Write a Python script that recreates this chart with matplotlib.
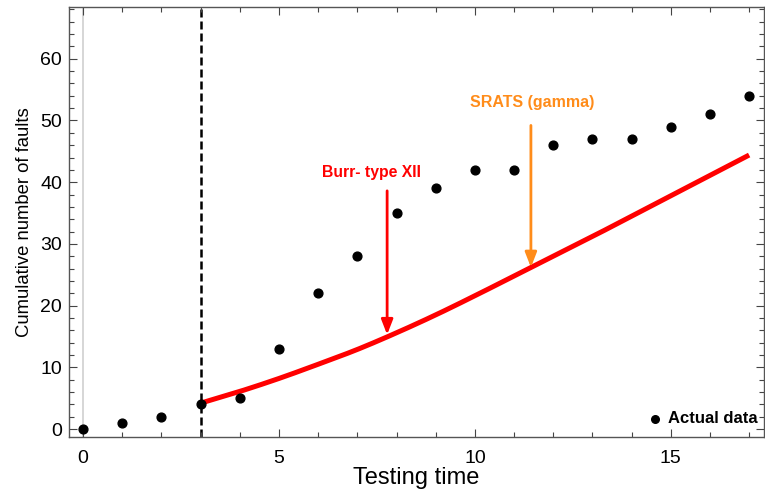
import numpy as np
import matplotlib
matplotlib.use("Agg")
import matplotlib.pyplot as plt
from matplotlib.ticker import MultipleLocator

plt.rcParams['font.family'] = ['Liberation Sans', 'DejaVu Sans']

# Observed cumulative faults per testing period
test_time = [0, 1, 2, 3, 4, 5, 6, 7, 8, 9, 10, 11, 12, 13, 14, 15, 16, 17]
faults = [0, 1, 2, 4, 5, 13, 22, 28, 35, 39, 42, 42, 46, 47, 47, 49, 51, 54]

# Fitted mean value function (prediction from t = 3 onward)
fit_time = [3, 4, 5, 6, 7, 8, 9, 10, 11, 12, 13, 14, 15, 16, 17]
fit_values = [4.2, 6.1, 8.2, 10.5, 12.9, 15.6, 18.5, 21.6, 24.8, 28.0,
              31.2, 34.5, 37.8, 41.1, 44.4]

split_time = 3


def catmull_rom(xs, ys, n=20):
    """Smooth curve passing through the given points."""
    xs = np.asarray(xs, float)
    ys = np.asarray(ys, float)
    px = np.concatenate([[2 * xs[0] - xs[1]], xs, [2 * xs[-1] - xs[-2]]])
    py = np.concatenate([[2 * ys[0] - ys[1]], ys, [2 * ys[-1] - ys[-2]]])
    out_x, out_y = [], []
    t = np.linspace(0, 1, n, endpoint=False)
    for i in range(1, len(px) - 2):
        for p, out in ((px, out_x), (py, out_y)):
            p0, p1, p2, p3 = p[i - 1], p[i], p[i + 1], p[i + 2]
            out.extend(0.5 * (2 * p1 + (-p0 + p2) * t
                              + (2 * p0 - 5 * p1 + 4 * p2 - p3) * t ** 2
                              + (-p0 + 3 * p1 - 3 * p2 + p3) * t ** 3))
    out_x.append(xs[-1])
    out_y.append(ys[-1])
    return np.array(out_x), np.array(out_y)


fig = plt.figure(figsize=(7.65, 4.95), dpi=100)
ax = fig.add_axes([0.0902, 0.117, 0.908, 0.869])

ax.axvline(0, color='#d0d0d0', lw=1.2, zorder=0)
ax.axvline(split_time, color='black', lw=1.8, ls=(0, (3.2, 1.6)), zorder=1)

cx, cy = catmull_rom(fit_time, fit_values)
ax.plot(cx, cy, color='#ff0000', lw=3.6, solid_capstyle='butt', zorder=2)
ax.scatter(test_time, faults, s=40, color='black', zorder=3)

# Annotation arrows pointing at the fitted curve
ax.annotate('', xy=(7.76, 15.3), xytext=(7.76, 38.6),
            arrowprops=dict(arrowstyle='-|>,head_length=0.9,head_width=0.35',
                            color='#ff0000', lw=2.0, shrinkA=0, shrinkB=0))
ax.text(7.35, 41.5, 'Burr- type XII', color='#ff0000', fontsize=11.3,
        fontweight='bold', ha='center', va='center')

ax.annotate('', xy=(11.43, 26.2), xytext=(11.43, 49.2),
            arrowprops=dict(arrowstyle='-|>,head_length=0.9,head_width=0.35',
                            color='#ff8c1a', lw=2.0, shrinkA=0, shrinkB=0))
ax.text(11.45, 52.9, 'SRATS (gamma)', color='#ff8c1a', fontsize=11.5,
        fontweight='bold', ha='center', va='center')

# Legend entry
ax.scatter([14.6], [1.7], s=30, color='black', zorder=3)
ax.text(14.92, 1.7, 'Actual data', fontsize=12, fontweight='bold',
        ha='left', va='center')

ax.set_xlim(-0.36, 17.37)
ax.set_ylim(-1.3, 68.4)

ax.xaxis.set_major_locator(MultipleLocator(5))
ax.xaxis.set_minor_locator(MultipleLocator(1))
ax.yaxis.set_major_locator(MultipleLocator(10))
ax.yaxis.set_minor_locator(MultipleLocator(2))

ax.tick_params(which='both', direction='in', top=True, right=True,
               color='#444444', width=0.8)
ax.tick_params(which='major', length=5.5, labelsize=14)
ax.tick_params(which='minor', length=3.5)
ax.tick_params(axis='x', which='major', pad=9)
ax.tick_params(axis='y', which='major', pad=5)

for sp in ax.spines.values():
    sp.set_color('#555555')
    sp.set_linewidth(1.0)

ax.set_xlabel('Testing time', fontsize=17, labelpad=0)
ax.set_ylabel('Cumulative number of faults', fontsize=13.3, labelpad=5)

fig.savefig('out.png', dpi=100)
